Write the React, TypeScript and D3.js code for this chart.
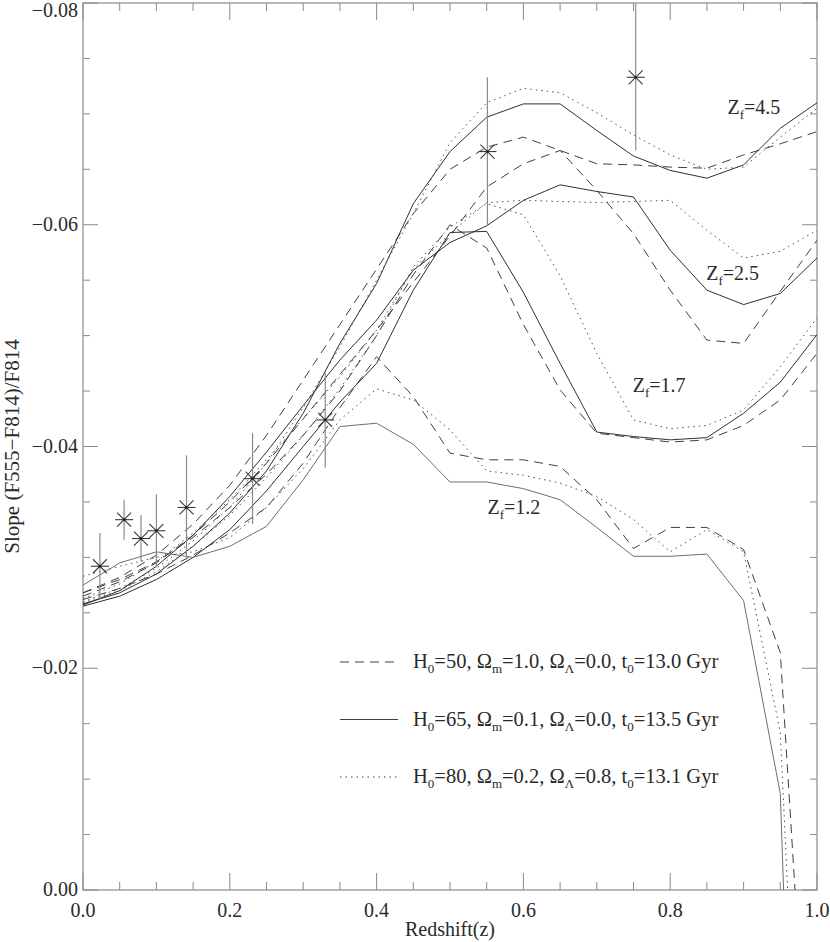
import React from 'react';
import * as d3 from 'd3';

// redshift grid of the model curves
const redshifts = [0, 0.05, 0.1, 0.15, 0.2, 0.25, 0.3, 0.35, 0.4, 0.45, 0.5, 0.55, 0.6, 0.65, 0.7, 0.75, 0.8, 0.85, 0.9, 0.95, 1.0];

// model slopes, one array per (Z_f, cosmology)
const dashed45 = [-0.0268, -0.0282, -0.0302, -0.0330, -0.0365, -0.0410, -0.0460, -0.0510, -0.0560, -0.0610, -0.0650, -0.0670, -0.0679, -0.0667, -0.0655, -0.0654, -0.0652, -0.0651, -0.0663, -0.0673, -0.0684];
const solid45 = [-0.0258, -0.0268, -0.0285, -0.0310, -0.0340, -0.0378, -0.0430, -0.0493, -0.0547, -0.0619, -0.0666, -0.0697, -0.0709, -0.0709, -0.0685, -0.0662, -0.0649, -0.0642, -0.0654, -0.0687, -0.0710];
const dotted45 = [-0.0260, -0.0272, -0.0290, -0.0315, -0.0345, -0.0385, -0.0435, -0.0490, -0.0550, -0.0610, -0.0674, -0.0710, -0.0723, -0.0719, -0.0701, -0.0681, -0.0663, -0.0650, -0.0652, -0.0679, -0.0705];

const dashed25 = [-0.0265, -0.0278, -0.0295, -0.0320, -0.0350, -0.0385, -0.0425, -0.0465, -0.0505, -0.0548, -0.0590, -0.0634, -0.0655, -0.0667, -0.0631, -0.0592, -0.0541, -0.0496, -0.0493, -0.0540, -0.0586];
const solid25 = [-0.0257, -0.0270, -0.0292, -0.0320, -0.0355, -0.0395, -0.0437, -0.0478, -0.0514, -0.0559, -0.0584, -0.0599, -0.0622, -0.0636, -0.0630, -0.0625, -0.0577, -0.0541, -0.0528, -0.0538, -0.0570];
const dotted25 = [-0.0263, -0.0276, -0.0296, -0.0322, -0.0352, -0.0388, -0.0425, -0.0463, -0.0505, -0.0560, -0.0592, -0.0620, -0.0622, -0.0621, -0.0620, -0.0621, -0.0622, -0.0595, -0.0570, -0.0576, -0.0595];

const dashed17 = [-0.0268, -0.0280, -0.0296, -0.0318, -0.0345, -0.0375, -0.0410, -0.0450, -0.0500, -0.0555, -0.0600, -0.0579, -0.0510, -0.0451, -0.0412, -0.0408, -0.0404, -0.0406, -0.0419, -0.0442, -0.0484];
const solid17 = [-0.0256, -0.0265, -0.0280, -0.0300, -0.0325, -0.0360, -0.0400, -0.0440, -0.0475, -0.0541, -0.0593, -0.0594, -0.0539, -0.0475, -0.0413, -0.0409, -0.0406, -0.0408, -0.0430, -0.0458, -0.0501];
const dotted17 = [-0.0259, -0.0270, -0.0287, -0.0310, -0.0338, -0.0372, -0.0410, -0.0452, -0.0500, -0.0562, -0.0598, -0.0619, -0.0609, -0.0554, -0.0484, -0.0424, -0.0416, -0.0419, -0.0433, -0.0472, -0.0516];

const dashed12 = [-0.0262, -0.0272, -0.0285, -0.0302, -0.0322, -0.0345, -0.0385, -0.0435, -0.0481, -0.0445, -0.0394, -0.0388, -0.0388, -0.0382, -0.0352, -0.0308, -0.0327, -0.0327, -0.0307, -0.0214, 0.032];
const solid12 = [-0.0275, -0.0295, -0.0305, -0.0300, -0.0310, -0.0328, -0.0370, -0.0418, -0.0421, -0.0402, -0.0368, -0.0368, -0.0362, -0.0352, -0.0327, -0.0301, -0.0301, -0.0303, -0.0261, -0.0087, 0.088];
const dotted12 = [-0.0283, -0.0292, -0.0300, -0.0305, -0.0318, -0.0345, -0.0380, -0.0424, -0.0452, -0.0442, -0.0415, -0.0378, -0.0374, -0.0367, -0.0355, -0.0334, -0.0305, -0.0325, -0.0305, -0.0142, 0.057];

// observed cluster points
const obsZ = [0.023, 0.056, 0.079, 0.100, 0.141, 0.231, 0.330, 0.551, 0.753];
const obsSlope = [-0.0292, -0.0334, -0.0317, -0.0324, -0.0345, -0.0371, -0.0424, -0.0666, -0.0733];
const obsErr = [0.0030, 0.0018, 0.0021, 0.0033, 0.0047, 0.0041, 0.0043, 0.0067, 0.0066];

const xMajor = [0, 0.2, 0.4, 0.6, 0.8, 1.0];
const xMinor = [0.05, 0.1, 0.15, 0.25, 0.3, 0.35, 0.45, 0.5, 0.55, 0.65, 0.7, 0.75, 0.85, 0.9, 0.95];
const yMajor = [0, -0.02, -0.04, -0.06, -0.08];
const yMinor = [-0.005, -0.01, -0.015, -0.025, -0.03, -0.035, -0.045, -0.05, -0.055, -0.065, -0.07, -0.075];

const zfLabels = [
  { text: '4.5', z: 0.878, v: -0.0700 },
  { text: '2.5', z: 0.849, v: -0.0550 },
  { text: '1.7', z: 0.749, v: -0.0449 },
  { text: '1.2', z: 0.551, v: -0.0339 },
];

const legendItems = [
  { dash: '9,6', h: '50', om: '1.0', ol: '0.0', t: '13.0' },
  { dash: null, h: '65', om: '0.1', ol: '0.0', t: '13.5' },
  { dash: '1.5,4', h: '80', om: '0.2', ol: '0.8', t: '13.1' },
];

const W = 830, H = 942;
const M = { left: 83, right: 13, top: 3, bottom: 52 };
const FONT = '"Liberation Serif", "DejaVu Serif", serif';
const AXIS = '#8a8a8a';
const INK = '#2a2a2a';

export default function App() {
  const x = d3.scaleLinear().domain([0, 1]).range([M.left, W - M.right]);
  const y = d3.scaleLinear().domain([0, -0.08]).range([H - M.bottom, M.top]);
  const line = d3.line<number>().x((_, i) => x(redshifts[i])).y(d => y(d));

  const curves = [
    { d: dashed45, dash: '9,6', c: '#404040' },
    { d: solid45, dash: null, c: '#303030' },
    { d: dotted45, dash: '1.5,4', c: '#505050' },
    { d: dashed25, dash: '9,6', c: '#404040' },
    { d: solid25, dash: null, c: '#303030' },
    { d: dotted25, dash: '1.5,4', c: '#505050' },
    { d: dashed17, dash: '9,6', c: '#404040' },
    { d: solid17, dash: null, c: '#303030' },
    { d: dotted17, dash: '1.5,4', c: '#505050' },
    { d: dashed12, dash: '9,6', c: '#404040' },
    { d: solid12, dash: null, c: '#6e6e6e' },
    { d: dotted12, dash: '1.5,4', c: '#505050' },
  ];

  const x0 = x(0), x1 = x(1), y0 = y(0), y1 = y(-0.08);

  return (
    <svg width={W} height={H} style={{ position: 'absolute', left: 0, top: 0, background: '#fff' }} fontFamily={FONT}>
      <defs>
        <clipPath id="plot">
          <rect x={x0} y={y1} width={x1 - x0} height={y0 - y1} />
        </clipPath>
      </defs>

      {/* frame */}
      <rect x={x0} y={y1} width={x1 - x0} height={y0 - y1} fill="none" stroke={AXIS} strokeWidth={1.2} />

      {/* x ticks, bottom and top */}
      {xMajor.map(t => (
        <g key={'xM' + t} stroke={AXIS} strokeWidth={1}>
          <line x1={x(t)} x2={x(t)} y1={y0} y2={y0 - 17} />
          <line x1={x(t)} x2={x(t)} y1={y1} y2={y1 + 17} />
        </g>
      ))}
      {xMinor.map(t => (
        <g key={'xm' + t} stroke={AXIS} strokeWidth={1}>
          <line x1={x(t)} x2={x(t)} y1={y0} y2={y0 - 8} />
          <line x1={x(t)} x2={x(t)} y1={y1} y2={y1 + 8} />
        </g>
      ))}
      {/* y ticks, left and right */}
      {yMajor.map(t => (
        <g key={'yM' + t} stroke={AXIS} strokeWidth={1}>
          <line x1={x0} x2={x0 + 15} y1={y(t)} y2={y(t)} />
          <line x1={x1} x2={x1 - 15} y1={y(t)} y2={y(t)} />
        </g>
      ))}
      {yMinor.map(t => (
        <g key={'ym' + t} stroke={AXIS} strokeWidth={1}>
          <line x1={x0} x2={x0 + 7} y1={y(t)} y2={y(t)} />
          <line x1={x1} x2={x1 - 7} y1={y(t)} y2={y(t)} />
        </g>
      ))}

      {/* tick labels */}
      {xMajor.map(t => (
        <text key={'xl' + t} x={x(t)} y={y0 + 27} textAnchor="middle" fontSize={20} fill={INK}>
          {d3.format('.1f')(t)}
        </text>
      ))}
      {yMajor.map(t => (
        <text key={'yl' + t} x={x0 - 5} y={Math.max(y(t) + 6, 17)} textAnchor="end" fontSize={20} fill={INK}>
          {t === 0 ? '0.00' : '\u2212' + d3.format('.2f')(-t)}
        </text>
      ))}

      <text x={(x0 + x1) / 2} y={H - 6} textAnchor="middle" fontSize={20} fill={INK}>Redshift(z)</text>
      <text transform={`translate(19,${(y0 + y1) / 2}) rotate(-90)`} textAnchor="middle" fontSize={21} fill={INK}>
        Slope (F555{'\u2212'}F814)/F814
      </text>

      {/* model curves */}
      <g clipPath="url(#plot)" fill="none">
        {curves.map((c, i) => (
          <path key={i} d={line(c.d) || ''} stroke={c.c} strokeWidth={1} strokeDasharray={c.dash || undefined} />
        ))}
      </g>

      {/* observations with error bars */}
      <g>
        {obsZ.map((z, i) => {
          const cx = x(z), cy = y(obsSlope[i]);
          return (
            <g key={'o' + i}>
              <line x1={cx} x2={cx} y1={y(obsSlope[i] - obsErr[i])} y2={y(obsSlope[i] + obsErr[i])} stroke="#8a8a8a" strokeWidth={1.2} />
              <g stroke="#3a3a3a" strokeWidth={1.1}>
                <line x1={cx - 9} x2={cx + 9} y1={cy} y2={cy} />
                <line x1={cx - 7} x2={cx + 7} y1={cy - 7} y2={cy + 7} />
                <line x1={cx - 7} x2={cx + 7} y1={cy + 7} y2={cy - 7} />
              </g>
              <circle cx={cx} cy={cy} r={1.4} fill="#222" />
            </g>
          );
        })}
      </g>

      {/* formation-redshift labels */}
      {zfLabels.map(l => (
        <text key={l.text} x={x(l.z)} y={y(l.v)} fontSize={20} fill={INK}>
          Z<tspan fontSize={13} dy={5}>f</tspan><tspan dy={-5}>={l.text}</tspan>
        </text>
      ))}

      {/* legend */}
      {legendItems.map((it, i) => {
        const ly = 662 + i * 57.5;
        return (
          <g key={'lg' + i}>
            <line x1={340} x2={398} y1={ly} y2={ly} stroke="#404040" strokeWidth={1} strokeDasharray={it.dash || undefined} />
            <text x={413} y={ly + 6} fontSize={20.5} fill={INK}>
              H<tspan fontSize={13} dy={5}>0</tspan>
              <tspan dy={-5}>={it.h}, {'\u03A9'}</tspan>
              <tspan fontSize={13} dy={5}>m</tspan>
              <tspan dy={-5}>={it.om}, {'\u03A9'}</tspan>
              <tspan fontSize={13} dy={5}>{'\u039B'}</tspan>
              <tspan dy={-5}>={it.ol}, t</tspan>
              <tspan fontSize={13} dy={5}>0</tspan>
              <tspan dy={-5}>={it.t} Gyr</tspan>
            </text>
          </g>
        );
      })}
    </svg>
  );
}
